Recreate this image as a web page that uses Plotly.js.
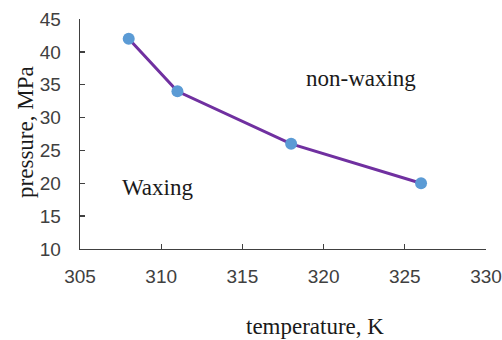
<!DOCTYPE html>
<html>
<head>
<meta charset="utf-8">
<script src="https://cdn.plot.ly/plotly-3.0.1.min.js"></script>
<style>html,body{margin:0;padding:0;background:#fff;}</style>
</head>
<body>
<div id="chart" style="width:502px;height:340px;"></div>
<script>
const temperatureK = [308, 311, 318, 326];
const pressureMPa = [42, 34, 26, 20];
const xTickVals = [305, 310, 315, 320, 325, 330];
const yTickVals = [10, 15, 20, 25, 30, 35, 40, 45];
const xTitle = 'temperature, K';
const yTitle = 'pressure, MPa';
const regionLabels = ['Waxing', 'non-waxing'];

const trace = {
  x: temperatureK,
  y: pressureMPa,
  type: 'scatter',
  mode: 'lines+markers',
  line: {color: '#7030A0', width: 3},
  marker: {color: '#5B9BD5', size: 12},
  cliponaxis: false,
  hoverinfo: 'skip'
};

const serif = 'Liberation Serif, Times New Roman, serif';
const axisCommon = {
  showgrid: false,
  zeroline: false,
  showline: true,
  linecolor: '#404040',
  linewidth: 1.3,
  ticks: 'inside',
  ticklen: 5,
  tickwidth: 1.3,
  tickcolor: '#404040',
  tickfont: {family: 'Liberation Sans, Arial, sans-serif', size: 19, color: '#404040'},
  fixedrange: true
};

const layout = {
  width: 502,
  height: 340,
  margin: {l: 80, r: 16, t: 19, b: 91},
  paper_bgcolor: '#ffffff',
  plot_bgcolor: '#ffffff',
  showlegend: false,
  xaxis: Object.assign({}, axisCommon, {range: [305, 330], tickvals: xTickVals, ticklabelstandoff: 10}),
  yaxis: Object.assign({}, axisCommon, {range: [10, 45], tickvals: yTickVals, ticklabelstandoff: 14}),
  annotations: [
    {text: regionLabels[0], xref: 'x', yref: 'y', x: 309.75, y: 19.3, showarrow: false,
     font: {family: serif, size: 23, color: '#1a1a1a'}},
    {text: regionLabels[1], xref: 'x', yref: 'y', x: 322.3, y: 36.0, showarrow: false,
     font: {family: serif, size: 23, color: '#1a1a1a'}},
    {text: xTitle, xref: 'paper', yref: 'paper', x: 0.58, y: 0, yshift: -77, yanchor: 'middle',
     showarrow: false, font: {family: serif, size: 23, color: '#1a1a1a'}},
    {text: yTitle, xref: 'paper', yref: 'paper', x: 0, xshift: -54, y: 0.509, textangle: -90,
     xanchor: 'center', showarrow: false, font: {family: serif, size: 23, color: '#1a1a1a'}}
  ]
};

Plotly.newPlot('chart', [trace], layout, {displayModeBar: false, staticPlot: true});
</script>
</body>
</html>
